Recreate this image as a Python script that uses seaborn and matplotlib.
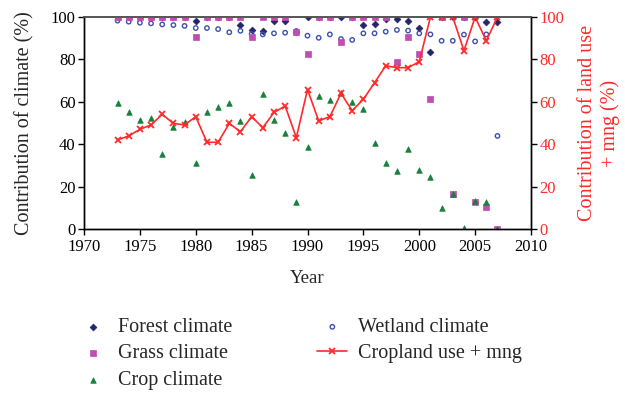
import matplotlib
matplotlib.use("Agg")
import matplotlib.pyplot as plt
import seaborn as sns
import numpy as np
import pandas as pd

years = list(range(1973, 2008))

forest = [100, 100, 100, 100, 100, 100, 100, 98.3, 100, 100, 100, 96.2, 93.9, 93.2,
          98.2, 98.2, 93.0, 100, 100, 100, 100, 100, 96.2, 96.5, 98.9, 98.9, 98.3,
          95.0, 83.3, 100, 100, 100, 100, 97.8, 97.6]
grass = [100, 100, 100, 100, 100, 100, 100, 90.4, 100, 100, 100, 100, 90.7, 100,
         100, 100, 92.8, 82.5, 100, 100, 88.1, 100, 100, 100, 100, 78.6, 90.4,
         82.5, 61.3, 100, 16.5, 100, 12.6, 10.2, 0]
wetland = [98.3, 97.8, 97.3, 97.0, 96.5, 96.2, 95.8, 94.8, 94.8, 94.3, 92.8, 93.5,
           92.0, 91.8, 92.3, 92.6, 93.4, 91.2, 90.2, 91.8, 89.6, 89.2, 92.3, 92.3,
           93.1, 93.9, 93.6, 92.3, 91.8, 88.8, 88.8, 91.7, 88.5, 91.8, 43.9]
crop = [59.6, 55.2, 51.4, 52.2, 35.4, 48.1, 50.3, 31.3, 55.0, 57.5, 59.3, 51.1,
        25.5, 63.7, 51.4, 45.1, 12.7, 38.6, 62.9, 60.8, 64.0, 60.1, 56.5, 40.4,
        31.1, 27.4, 37.9, 28.0, 24.5, 9.9, 16.5, 0.5, 13.2, 12.6, 0]
cropland = [42.0, 43.9, 47.0, 49.1, 54.1, 49.8, 49.1, 53.0, 40.9, 40.9, 49.8, 45.9,
            53.0, 47.8, 55.0, 58.0, 43.1, 65.8, 51.0, 53.0, 64.0, 55.8, 61.2, 69.0,
            77.0, 76.1, 76.1, 78.9, 100, 100, 100, 84.1, 100, 88.8, 100]

df = pd.DataFrame({"Year": years, "forest": forest, "grass": grass,
                   "wetland": wetland, "crop": crop, "cropland": cropland})

sns.set_theme(style="white")
plt.rcParams["font.family"] = ["Liberation Serif", "DejaVu Serif"]
plt.rcParams["font.size"] = 13

C_FOREST = "#24246b"
C_GRASS = "#c04db4"
C_WET = "#3b50b0"
C_CROP = "#17803a"
C_RED = "#ff2a2a"

fig = plt.figure(figsize=(6.25, 3.93), dpi=100)
ax = fig.add_axes([0.1344, 0.4173, 0.7152, 0.5394])
ax2 = ax.twinx()

sns.scatterplot(data=df, x="Year", y="forest", ax=ax, marker="D", s=12,
                color=C_FOREST, edgecolor=C_FOREST, linewidth=0.5,
                label="Forest climate", zorder=3)
sns.scatterplot(data=df, x="Year", y="wetland", ax=ax, marker="o", s=10,
                facecolor="none", edgecolor=C_WET, linewidth=1.0,
                label="Wetland climate", zorder=3)
sns.scatterplot(data=df, x="Year", y="grass", ax=ax, marker="s", s=16,
                color=C_GRASS, edgecolor=C_GRASS, linewidth=0.5,
                label="Grass climate", zorder=3)
sns.scatterplot(data=df, x="Year", y="crop", ax=ax, marker="^", s=16,
                color=C_CROP, edgecolor=C_CROP, linewidth=0.5,
                label="Crop climate", zorder=3)
sns.lineplot(data=df, x="Year", y="cropland", ax=ax2, color=C_RED, linewidth=1.2,
             marker="x", markersize=5, markeredgewidth=1.3,
             markeredgecolor=C_RED, markerfacecolor=C_RED,
             label="Cropland use + mng")

ax.set_xlim(1970, 2010)
ax.set_ylim(0, 100)
ax2.set_ylim(0, 100)
ax.set_xticks(range(1970, 2011, 5))
ax.set_yticks(range(0, 101, 20))
ax2.set_yticks(range(0, 101, 20))

ax.set_xlabel("Year", fontsize=13.5, labelpad=11)
ax.set_ylabel("Contribution of climate (%)", fontsize=14.5, labelpad=12)
ax2.set_ylabel("Contribution of land use\n+ mng (%)", fontsize=14.5, color=C_RED,
               labelpad=10, linespacing=1.2)

for a in (ax, ax2):
    for side in ("left", "right", "bottom"):
        a.spines[side].set_color("black")
        a.spines[side].set_linewidth(1.0)
    a.spines["top"].set_color("#555555")
    a.spines["top"].set_linewidth(1.2)
    a.tick_params(direction="out", length=4, width=1.0, labelsize=12, pad=2)
ax.tick_params(axis="x", pad=3)
ax.tick_params(axis="both", colors="black", left=True, bottom=True)
ax2.tick_params(axis="y", colors="black", labelcolor=C_RED, right=True)
ax.grid(False)
ax2.grid(False)

h1, l1 = ax.get_legend_handles_labels()
h2, l2 = ax2.get_legend_handles_labels()
ax.get_legend().remove()
ax2.get_legend().remove()
hd = dict(zip(l1 + l2, h1 + h2))
order = ["Forest climate", "Grass climate", "Crop climate",
         "Wetland climate", "Cropland use + mng"]
fig.legend([hd[k] for k in order], order, loc="upper left",
           bbox_to_anchor=(78 / 625, 1 - 318 / 393), ncol=2, frameon=False,
           fontsize=14.5, labelspacing=0.36, columnspacing=4.2,
           handlelength=1.5, handletextpad=0.5, borderaxespad=0, borderpad=0)

fig.savefig("out.png", dpi=100)
